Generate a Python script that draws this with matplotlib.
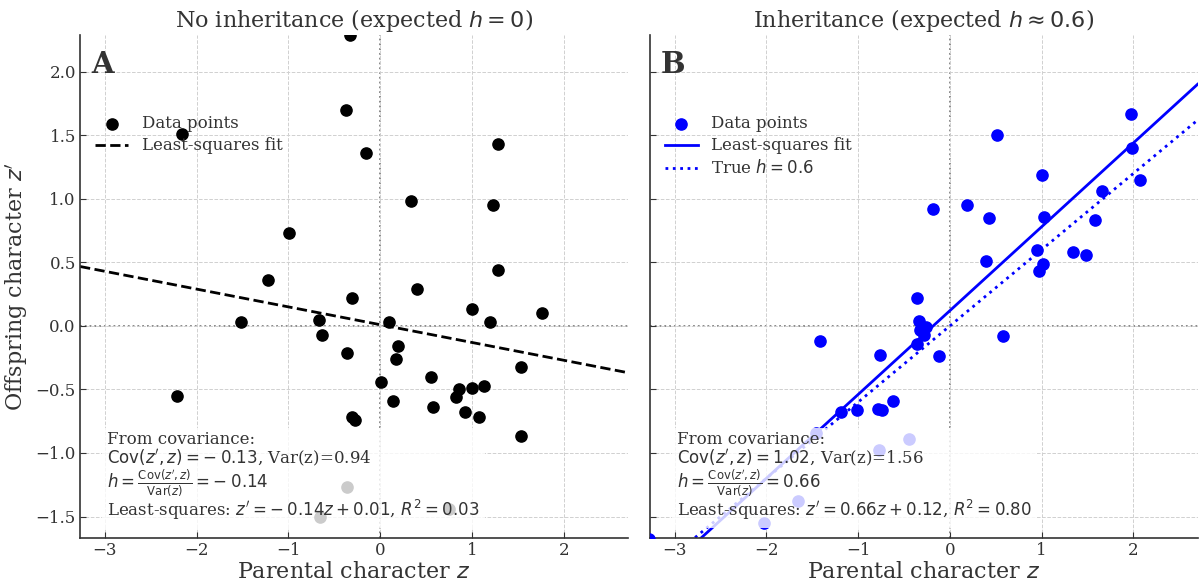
import numpy as np
import matplotlib.pyplot as plt

plt.rcParams['font.family'] = 'DejaVu Serif'
plt.rcParams['mathtext.fontset'] = 'dejavusans'

# Data (parental z, offspring z')
z_a = [-0.33, -2.16, -0.37, -0.15, 1.29, 0.34, 1.23, -0.99, 1.28, -1.22,
       0.40, -0.31, 1.00, 1.76, 0.10, 1.20, -1.52, -0.67, -0.63, -0.36,
       0.20, 0.17, 0.01, 0.55, 1.54, 0.86, 0.83, 1.00, 1.13, 0.14,
       0.58, 0.92, 1.08, 1.53, -0.31, -0.27, -2.21, -0.36, -0.66, 0.75]
zp_a = [2.29, 1.51, 1.70, 1.36, 1.43, 0.98, 0.95, 0.73, 0.44, 0.36,
        0.29, 0.22, 0.13, 0.10, 0.03, 0.03, 0.03, 0.05, -0.07, -0.21,
        -0.16, -0.26, -0.44, -0.40, -0.32, -0.50, -0.56, -0.49, -0.47, -0.59,
        -0.64, -0.68, -0.72, -0.87, -0.72, -0.74, -0.55, -1.27, -1.50, -1.44]

z_b = [1.97, 0.51, 1.99, 1.00, 2.07, 1.66, -0.18, 0.19, 0.43, 1.03,
       1.58, 0.95, 1.34, 1.48, 0.39, 1.02, 0.97, -0.36, -0.34, -0.26,
       -0.32, -0.28, -0.36, 0.58, -1.41, -0.12, -0.76, -0.62, -0.78, -0.74,
       -1.01, -1.19, -1.46, -0.45, -0.77, -1.66, -2.02, -3.28]
zp_b = [1.67, 1.50, 1.40, 1.19, 1.15, 1.06, 0.92, 0.95, 0.85, 0.86,
        0.83, 0.60, 0.58, 0.56, 0.51, 0.49, 0.43, 0.22, 0.04, -0.005,
        -0.03, -0.07, -0.14, -0.08, -0.12, -0.24, -0.23, -0.59, -0.65, -0.66,
        -0.66, -0.68, -0.84, -0.89, -0.98, -1.38, -1.55, -1.68]

# statistics as printed in the figure
cov_a, var_a, h_a, slope_a, icpt_a, r2_a = -0.13, 0.94, -0.14, -0.14, 0.01, 0.03
cov_b, var_b, h_b, slope_b, icpt_b, r2_b = 1.02, 1.56, 0.66, 0.66, 0.12, 0.80
true_h = 0.6

xlim = (-3.27, 2.70)
ylim = (-1.67, 2.29)

txt_col = '#333333'


def num(v):
    # old-style mathtext spacing around the minus sign
    return rf"-\:{abs(v):.2f}" if v < 0 else f"{v:.2f}"


fig, axes = plt.subplots(1, 2, figsize=(12, 5.83), sharey=True)
fig.subplots_adjust(left=0.0667, right=0.998, top=0.94, bottom=0.077, wspace=0.04)

panels = [
    (axes[0], z_a, zp_a, 'black', '--', 'A', r'No inheritance (expected $h = 0$)', False,
     (cov_a, var_a, h_a, slope_a, icpt_a, r2_a)),
    (axes[1], z_b, zp_b, 'blue', '-', 'B', r'Inheritance (expected $h \approx 0.6$)', True,
     (cov_b, var_b, h_b, slope_b, icpt_b, r2_b)),
]

for ax, z, zp, col, ls, tag, title, show_true, stats in panels:
    cov, var, h, slope, icpt, r2 = stats

    ax.grid(True, linestyle='--', color='#d0d0d0', linewidth=0.7, zorder=0)
    ax.axhline(0, color='gray', linestyle=':', linewidth=1.3, zorder=1)
    ax.axvline(0, color='gray', linestyle=':', linewidth=1.3, zorder=1)

    ax.scatter(z, zp, s=65, color=col, label='Data points', zorder=3)
    xs = np.array(xlim)
    ax.plot(xs, slope * xs + icpt, color=col, linestyle=ls, linewidth=2,
            label='Least-squares fit', zorder=2)
    if show_true:
        ax.plot(xs, true_h * xs, color=col, linestyle=':', linewidth=2,
                label=r'True $h = 0.6$', zorder=2)

    ax.set_xlim(xlim)
    ax.set_ylim(ylim)
    ax.set_title(title, fontsize=16, color=txt_col)
    ax.set_xlabel(r'Parental character $z$', fontsize=16, color=txt_col, labelpad=1)
    ax.text(0.02, 0.97, tag, transform=ax.transAxes, fontsize=21,
            fontweight='bold', color=txt_col, va='top', ha='left')

    leg = ax.legend(loc='upper left', bbox_to_anchor=(0.0, 0.87), frameon=False,
                    fontsize=12, labelspacing=0.3)
    for t in leg.get_texts():
        t.set_color(txt_col)

    info = ("From covariance:\n"
            rf"$\mathrm{{Cov}}(z', z) = {num(cov)}$, Var(z)={var:.2f}" "\n"
            rf"$h = \frac{{\mathrm{{Cov}}(z', z)}}{{\mathrm{{Var}}(z)}} = {num(h)}$" "\n"
            rf"Least-squares: $z' = {num(slope)}z + {icpt:.2f}$, $R^2 = {r2:.2f}$")
    ax.text(0.05, 0.032, info, transform=ax.transAxes, fontsize=12, color=txt_col,
            va='bottom', ha='left', zorder=5, linespacing=0.95,
            bbox=dict(facecolor='white', alpha=0.8, edgecolor='none', pad=4))

    for s in ['top', 'right']:
        ax.spines[s].set_visible(False)
    for s in ['left', 'bottom']:
        ax.spines[s].set_color(txt_col)
        ax.spines[s].set_linewidth(1.2)
    ax.tick_params(direction='in', labelsize=12, colors=txt_col, length=4, pad=3)
    ax.set_xticks([-3, -2, -1, 0, 1, 2])

axes[0].set_ylabel(r"Offspring character $z'$", fontsize=16, color=txt_col)
axes[0].set_yticks([-1.5, -1.0, -0.5, 0.0, 0.5, 1.0, 1.5, 2.0])

fig.savefig('out.png', dpi=100)
